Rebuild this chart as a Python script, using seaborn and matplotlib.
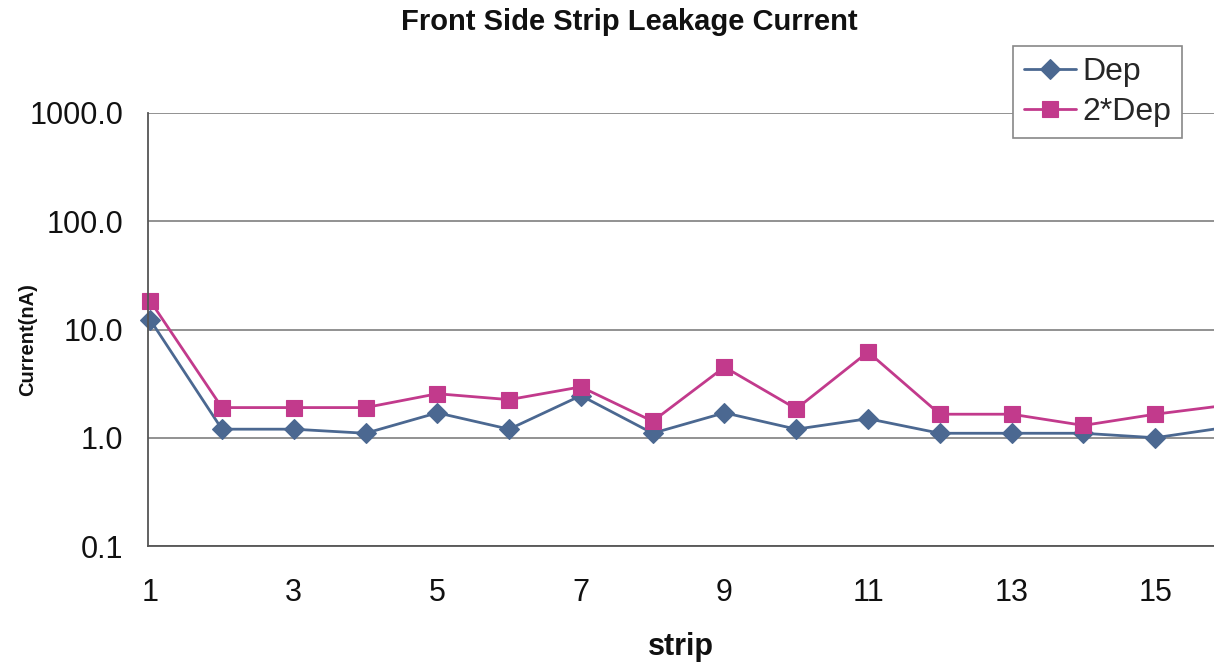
import matplotlib
matplotlib.use("Agg")
import matplotlib.pyplot as plt
import seaborn as sns
import pandas as pd
from matplotlib.ticker import FixedLocator, FixedFormatter, NullLocator

# Leakage current per strip (nA)
strips = list(range(1, 17))
dep = [12.3, 1.2, 1.2, 1.1, 1.7, 1.2, 2.45, 1.1, 1.7, 1.2, 1.5, 1.1, 1.1, 1.1, 1.0, 1.25]
dep2 = [18.4, 1.9, 1.9, 1.9, 2.55, 2.25, 2.95, 1.42, 4.5, 1.85, 6.2, 1.65, 1.65, 1.3, 1.65, 2.0]
series_names = ["Dep", "2*Dep"]

y_ticks = [0.1, 1.0, 10.0, 100.0, 1000.0]
y_tick_labels = ["0.1", "1.0", "10.0", "100.0", "1000.0"]
x_ticks = [1, 3, 5, 7, 9, 11, 13, 15]

df = pd.DataFrame({
    "strip": strips * 2,
    "current": dep + dep2,
    "series": [series_names[0]] * len(dep) + [series_names[1]] * len(dep2),
})

sns.set_theme(style="white")
plt.rcParams["font.family"] = ["Liberation Sans", "DejaVu Sans"]

W, H = 1214, 664
fig = plt.figure(figsize=(W / 100, H / 100), dpi=100)
fig.patch.set_facecolor("white")
ax = fig.add_axes([148 / W, 118 / H, (W - 148) / W, 433 / H])
ax.set_facecolor("white")

palette = {"Dep": "#4B6891", "2*Dep": "#C23A8C"}
markers = {"Dep": "D", "2*Dep": "s"}
sizes = {"Dep": 10, "2*Dep": 11}

for name in series_names:
    sub = df[df["series"] == name]
    sns.lineplot(data=sub, x="strip", y="current", ax=ax, color=palette[name],
                 marker=markers[name], markersize=sizes[name], linewidth=2.0,
                 markeredgewidth=0.8, markeredgecolor=palette[name],
                 label=name, legend=False, clip_on=False)

ax.set_yscale("log")
ax.set_ylim(0.1, 1000)
ax.set_xlim(0.97, 1 + (W - 150) / 71.8)

ax.yaxis.set_major_locator(FixedLocator(y_ticks))
ax.yaxis.set_major_formatter(FixedFormatter(y_tick_labels))
ax.yaxis.set_minor_locator(NullLocator())
ax.xaxis.set_major_locator(FixedLocator(x_ticks))
ax.xaxis.set_minor_locator(NullLocator())

ax.grid(axis="y", color="#7f7f7f", linewidth=1.2)
ax.grid(axis="x", visible=False)
ax.set_axisbelow(True)

for s in ["top", "right"]:
    ax.spines[s].set_visible(False)
for s in ["left", "bottom"]:
    ax.spines[s].set_color("#555555")
    ax.spines[s].set_linewidth(1.3)

ax.tick_params(axis="x", which="major", direction="out", length=4, width=1,
               color="#666666", labelsize=22, pad=19, labelcolor="#111111")
ax.tick_params(axis="y", which="major", direction="out", length=4, width=1,
               color="#666666", labelsize=22, pad=14, labelcolor="#111111")

ax.set_xlabel("strip", fontsize=22, fontweight="bold", labelpad=17, color="#111111")
ax.set_ylabel("Current(nA)", fontsize=14.5, fontweight="bold", color="#111111")
ax.yaxis.set_label_coords(37 / W, 1 - 340 / H, transform=fig.transFigure)

fig.suptitle("Front Side Strip Leakage Current", x=629 / W, y=1 - 8 / H,
             fontsize=21, fontweight="bold", color="#111111", va="top")

leg = ax.legend(loc="upper right", bbox_to_anchor=(1182 / W, 1 - 46 / H),
                bbox_transform=fig.transFigure, fontsize=23, frameon=True,
                fancybox=False, framealpha=1, edgecolor="#888888",
                handlelength=1.6, handletextpad=0.2, borderpad=0.35,
                labelspacing=0.3, borderaxespad=0, numpoints=1)
leg.get_frame().set_linewidth(1.2)

fig.savefig("out.png", dpi=100, facecolor="white")
